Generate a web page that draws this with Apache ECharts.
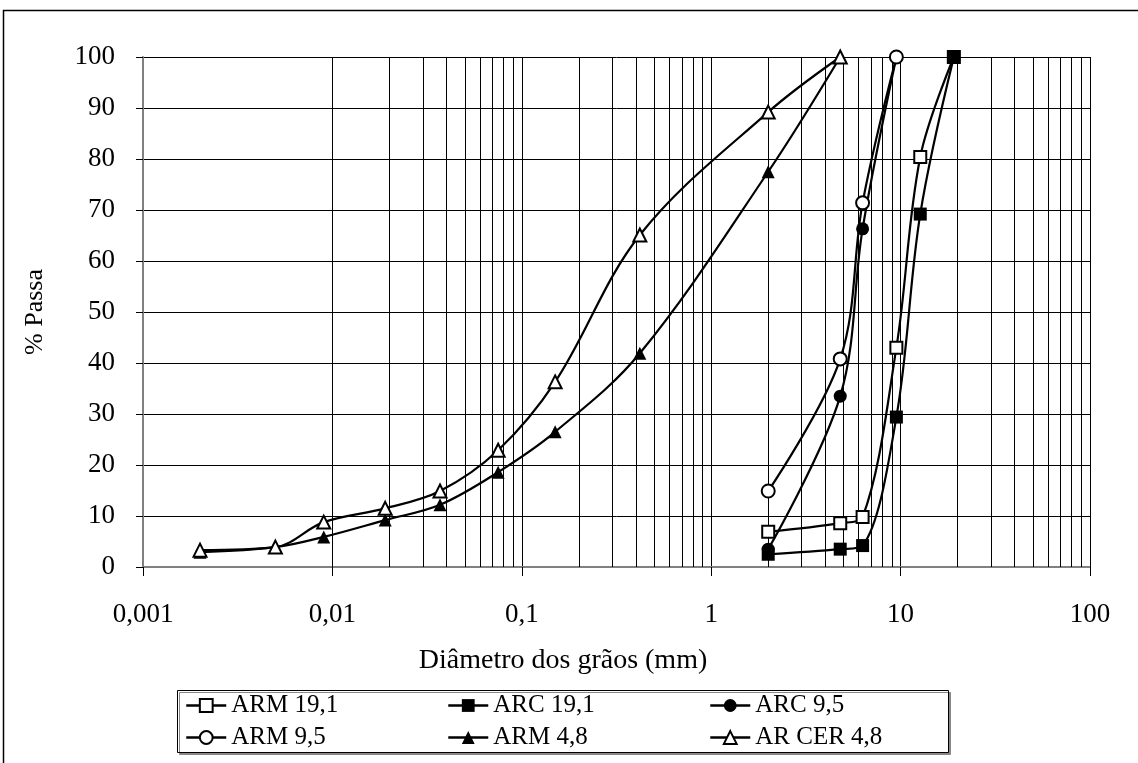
<!DOCTYPE html>
<html>
<head>
<meta charset="utf-8">
<script src="https://cdn.jsdelivr.net/npm/echarts@6/dist/echarts.min.js"></script>
<style>
html,body{margin:0;padding:0;background:#fff;}
#chart{width:1138px;height:763px;}
</style>
</head>
<body>
<div id="chart"></div>
<script>
// Sieve sizes (mm)
var sizesCoarse = [2.0, 4.8, 6.3, 9.5, 12.7, 19.1];
var sizesMid = [2.0, 4.8, 6.3, 9.5];
var sizesFine = [0.002, 0.005, 0.009, 0.019, 0.037, 0.075, 0.15, 0.42, 2.0, 4.8];

// % passing
var arm191 = [6.9, 8.6, 9.8, 43.0, 80.4, 100];
var arc191 = [2.5, 3.5, 4.2, 29.4, 69.2, 100];
var arc95 = [3.5, 33.5, 66.3, 100];
var arm95 = [14.9, 40.8, 71.4, 100];
var arm48 = [2.9, 3.9, 5.9, 9.2, 12.2, 18.6, 26.5, 41.9, 77.5, 100];
var arcer48 = [3.3, 3.9, 8.8, 11.5, 14.9, 22.9, 36.3, 65.1, 89.2, 100];

var seriesNames = ['ARM 19,1', 'ARC 19,1', 'ARC 9,5', 'ARM 9,5', 'ARM 4,8', 'AR CER 4,8'];

// log gridlines (2..9 of each decade, plus the last decade line)
var decades = [0.001, 0.01, 0.1, 1, 10];
var gridVals = [];
decades.forEach(function (d) {
  for (var k = 2; k <= 9; k++) gridVals.push(+(d * k).toPrecision(3));
});
gridVals.push(100);

function pairs(xs, ys) { return xs.map(function (x, i) { return [x, ys[i]]; }); }

var FONT = 'Liberation Serif';
var chart = echarts.init(document.getElementById('chart'));

function mk(name, xs, ys, symbol, filled, size) {
  return {
    name: name, type: 'line', z: 5,
    data: pairs(xs, ys),
    smooth: 0.35,
    symbol: symbol, symbolSize: size,
    showAllSymbol: true,
    lineStyle: { color: '#000', width: 2.2 },
    itemStyle: { color: filled ? '#000' : '#fff', borderColor: '#000', borderWidth: filled ? 0 : 2 },
    emphasis: { disabled: true }
  };
}

var legendPos = [[185, 693], [447, 693], [709, 693], [185, 725], [447, 725], [709, 725]];
var legends = seriesNames.map(function (n, i) {
  return {
    data: [n], left: legendPos[i][0], top: legendPos[i][1], padding: 0,
    itemWidth: 40, itemHeight: 16, itemGap: 4, selectedMode: false,
    lineStyle: { width: 2.5, color: '#000' },
    textStyle: { fontFamily: FONT, fontSize: 25, color: '#000' }
  };
});

chart.setOption({
  animation: false,
  backgroundColor: '#fff',
  grid: { left: 143, right: 48, top: 57, bottom: 196 },
  legend: legends,
  xAxis: {
    type: 'log', logBase: 10, min: 0.001, max: 100,
    axisLine: { show: true, lineStyle: { color: '#808080', width: 2 } },
    axisTick: { show: true, length: 9, lineStyle: { color: '#000' } },
    axisLabel: {
      margin: 34, fontFamily: FONT, fontSize: 27, color: '#000',
      formatter: function (v) { return String(+v.toPrecision(3)).replace('.', ','); }
    },
    splitLine: { show: true, lineStyle: { color: '#000', width: 1 } }
  },
  yAxis: {
    type: 'value', min: 0, max: 100, interval: 10,
    axisLine: { show: true, lineStyle: { color: '#808080', width: 2 } },
    axisTick: { show: true, length: 7, lineStyle: { color: '#000' } },
    axisLabel: { margin: 28, fontFamily: FONT, fontSize: 27, color: '#000' },
    splitLine: { show: true, lineStyle: { color: '#000', width: 1 } }
  },
  graphic: [
    { type: 'rect', shape: { x: 3.5, y: 10.5, width: 1200, height: 800 }, style: { fill: 'none', stroke: '#000', lineWidth: 1.5 }, z: -10, silent: true },
    { type: 'rect', shape: { x: 177.5, y: 690.5, width: 771, height: 62 }, style: { fill: '#fff', stroke: '#000', lineWidth: 1, shadowColor: '#888', shadowOffsetX: 2, shadowOffsetY: 2 }, z: -5, silent: true },
    { type: 'text', x: 563, y: 661, style: { text: 'Diâmetro dos grãos (mm)', font: '28px "' + FONT + '"', fill: '#000', textAlign: 'center', textVerticalAlign: 'middle' }, silent: true },
    { type: 'text', x: 35, y: 312, rotation: Math.PI / 2, style: { text: '% Passa', font: '26px "' + FONT + '"', fill: '#000', textAlign: 'center', textVerticalAlign: 'middle' }, silent: true }
  ],
  series: [
    {
      name: 'grid', type: 'line', data: [], z: 1, silent: true,
      markLine: {
        silent: true, symbol: ['none', 'none'], label: { show: false },
        lineStyle: { color: '#000', width: 1, type: 'solid' },
        emphasis: { disabled: true },
        data: gridVals.map(function (v) { return { xAxis: v }; })
      }
    },
    mk(seriesNames[0], sizesCoarse, arm191, 'rect', false, 12),
    mk(seriesNames[1], sizesCoarse, arc191, 'rect', true, 13),
    mk(seriesNames[2], sizesMid, arc95, 'circle', true, 13),
    mk(seriesNames[3], sizesMid, arm95, 'circle', false, 13),
    mk(seriesNames[4], sizesFine, arm48, 'triangle', true, 13),
    mk(seriesNames[5], sizesFine, arcer48, 'triangle', false, 13)
  ]
});
</script>
</body>
</html>
